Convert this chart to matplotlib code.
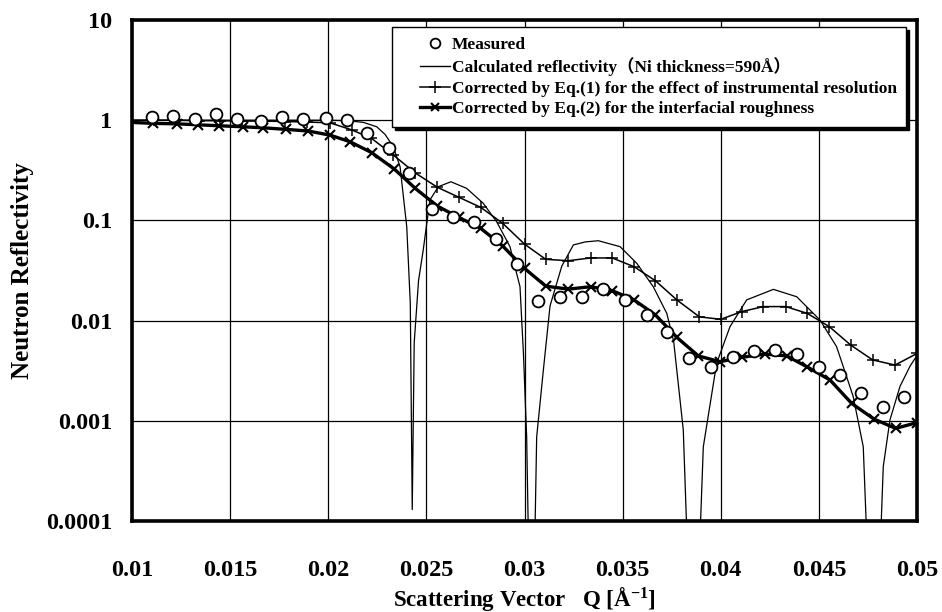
import matplotlib
matplotlib.use("Agg")
import matplotlib.pyplot as plt
from matplotlib.lines import Line2D
from matplotlib.legend_handler import HandlerLine2D

plt.rcParams['font.family'] = ['Liberation Serif', 'DejaVu Serif']
plt.rcParams['font.weight'] = 'bold'
plt.rcParams['axes.labelweight'] = 'bold'
plt.rcParams['mathtext.fontset'] = 'custom'
plt.rcParams['mathtext.rm'] = 'Liberation Serif:bold'
plt.rcParams['mathtext.default'] = 'rm'

# ---- Measured data ----
q_meas = [0.0110, 0.01207, 0.01323, 0.0143, 0.01537, 0.01656, 0.01763, 0.0187,
          0.01989, 0.02094, 0.0220, 0.02312, 0.02414, 0.02530, 0.02634, 0.02741,
          0.02853, 0.0296, 0.03067, 0.03182, 0.03291, 0.0340, 0.03512, 0.03623,
          0.03728, 0.0384, 0.0395, 0.0406, 0.0417, 0.04278, 0.04387, 0.04501,
          0.04606, 0.04715, 0.04825, 0.04934]
r_meas = [1.08, 1.11, 1.03, 1.15, 1.03, 0.98, 1.08, 1.03, 1.06, 1.0, 0.74, 0.525,
          0.295, 0.129, 0.107, 0.0964, 0.0647, 0.0367, 0.0156, 0.0171, 0.0173,
          0.0208, 0.0161, 0.0114, 0.00764, 0.00427, 0.00344, 0.00431, 0.00501,
          0.00506, 0.00468, 0.00342, 0.00284, 0.00189, 0.00136, 0.00173]

# ---- Calculated reflectivity (Ni thickness = 590 A) ----
q_calc = [0.0100, 0.0150, 0.0200, 0.0210, 0.0218, 0.02247, 0.0229, 0.02331, 0.02366,
          0.0240, 0.02418, 0.02428, 0.02438, 0.0246, 0.02484, 0.02518, 0.02561,
          0.02625, 0.02705, 0.0279, 0.02858, 0.02926, 0.02943, 0.02977, 0.02995,
          0.03011, 0.03036, 0.03062, 0.03096, 0.0313, 0.0319, 0.03249, 0.0331,
          0.03376, 0.03487, 0.03572, 0.03656, 0.03725, 0.0376, 0.03809, 0.0386,
          0.03911, 0.03979, 0.04047, 0.04132, 0.04268, 0.04387, 0.04506, 0.0459,
          0.04675, 0.04726, 0.0478, 0.04828, 0.04862, 0.04913, 0.04964, 0.0500]
r_calc = [1.0, 1.0, 1.0, 0.99, 0.95, 0.86, 0.72, 0.545, 0.343,
          0.0865, 0.015, 0.00013, 0.006, 0.025, 0.0507, 0.16, 0.217,
          0.243, 0.209, 0.148, 0.097, 0.0547, 0.040, 0.0218, 0.0045,
          0.00069, 1e-6, 0.00069, 0.0032, 0.014, 0.035, 0.0569, 0.061,
          0.0627, 0.0547, 0.0373, 0.0218, 0.0118, 0.0062, 0.00081, 1e-6,
          0.00055, 0.00375, 0.0087, 0.0161, 0.0205, 0.0173, 0.0101, 0.0055,
          0.00174, 0.00055, 1e-6, 0.00035, 0.00102, 0.0022, 0.0035, 0.0045]

# ---- Corrected by Eq.(1): instrumental resolution ----
q_eq1 = [0.0100, 0.0111, 0.0123, 0.0134, 0.0145, 0.0156, 0.0167, 0.0178, 0.0189,
         0.0201, 0.0212, 0.0222, 0.02331, 0.02442, 0.02556, 0.02666, 0.02777,
         0.02889, 0.0300, 0.03108, 0.03223, 0.03337, 0.03447, 0.03558, 0.03667,
         0.03776, 0.03891, 0.0400, 0.04107, 0.04217, 0.04331, 0.04441, 0.04553,
         0.04662, 0.04774, 0.04888, 0.0500]
r_eq1 = [1.0, 1.0, 1.0, 0.99, 0.99, 0.98, 0.98, 0.97, 0.96,
         0.94, 0.80, 0.66, 0.45, 0.299, 0.214, 0.17, 0.135,
         0.0935, 0.058, 0.0409, 0.0396, 0.0422, 0.0422, 0.0345, 0.025,
         0.0161, 0.0109, 0.0103, 0.0123, 0.0138, 0.0138, 0.0118, 0.0087,
         0.0057, 0.00405, 0.0036, 0.0047]

# ---- Corrected by Eq.(2): interfacial roughness ----
q_eq2 = [0.0100, 0.01109, 0.01228, 0.01338, 0.01445, 0.01564, 0.01669, 0.01785,
         0.01898, 0.02009, 0.02111, 0.02221, 0.02337, 0.02442, 0.02556, 0.02666,
         0.02777, 0.02889, 0.0300, 0.03108, 0.03223, 0.03337, 0.03447, 0.03558,
         0.03667, 0.03776, 0.03886, 0.03996, 0.04107, 0.04226, 0.04336, 0.04438,
         0.04557, 0.04667, 0.04781, 0.04891, 0.0500]
r_eq2 = [0.95, 0.93, 0.92, 0.90, 0.88, 0.86, 0.84, 0.81,
         0.78, 0.71, 0.61, 0.475, 0.325, 0.21, 0.139, 0.107,
         0.0833, 0.0555, 0.0332, 0.0221, 0.0206, 0.0218, 0.0199, 0.0161,
         0.0114, 0.0068, 0.00444, 0.00389, 0.0043, 0.00464, 0.00444, 0.00347,
         0.00255, 0.00149, 0.00104, 0.00084, 0.00096]

x_ticks = [0.01, 0.015, 0.02, 0.025, 0.03, 0.035, 0.04, 0.045, 0.05]
x_ticklabels = ['0.01', '0.015', '0.02', '0.025', '0.03', '0.035', '0.04', '0.045', '0.05']
y_ticks = [1e-4, 1e-3, 1e-2, 1e-1, 1, 10]
y_ticklabels = ['0.0001', '0.001', '0.01', '0.1', '1', '10']

labels = ['Measured',
          'Calculated reflectivity（Ni thickness=590Å）',
          'Corrected by Eq.(1) for the effect of instrumental resolution',
          'Corrected by Eq.(2) for the interfacial roughness']


class RightHandler(HandlerLine2D):
    """Draw the legend key in the right part of the handle box."""
    def create_artists(self, legend, orig_handle, xdescent, ydescent,
                       width, height, fontsize, trans):
        shift = 0.38 * width
        return super().create_artists(legend, orig_handle, xdescent - shift,
                                      ydescent, width - shift, height,
                                      fontsize, trans)


fig = plt.figure(figsize=(9.42, 6.12), dpi=100)
ax = fig.add_axes([0.1401, 0.1487, 0.8334, 0.8186])

ax.plot(q_calc, r_calc, color='black', lw=0.9, zorder=3)
ax.plot(q_eq1, r_eq1, color='black', lw=1.1, marker='+', ms=8, mew=1.1,
        markevery=slice(1, None), zorder=4)
ax.plot(q_eq2, r_eq2, color='black', lw=2.4, marker='x', ms=6.5, mew=1.5,
        markevery=slice(1, None), zorder=5)
ax.plot(q_meas, r_meas, linestyle='none', marker='o', ms=8.5, mfc='white',
        mec='black', mew=1.3, zorder=6)

ax.set_yscale('log')
ax.set_xlim(0.01, 0.05)
ax.set_ylim(1e-4, 10)
ax.set_xticks(x_ticks)
ax.set_xticklabels(x_ticklabels)
ax.set_yticks(y_ticks)
ax.set_yticklabels(y_ticklabels)
ax.minorticks_off()
ax.tick_params(axis='both', length=0, labelsize=17.5)
ax.tick_params(axis='x', pad=28)
ax.tick_params(axis='y', pad=14)
ax.grid(True, which='major', color='black', lw=0.9)
for s in ax.spines.values():
    s.set_linewidth(2.6)
    s.set_zorder(7)

ax.set_xlabel('Scattering Vector   Q [Å$^{-1}$]', fontsize=16.5, labelpad=3)
ax.set_ylabel('Neutron Reflectivity', fontsize=18, labelpad=9)

handles = [Line2D([], [], ls='none', marker='o', ms=7, mfc='white', mec='black', mew=1.3),
           Line2D([], [], color='black', lw=1.0),
           Line2D([], [], color='black', lw=1.1, marker='+', ms=8, mew=1.1),
           Line2D([], [], color='black', lw=2.4, marker='x', ms=6, mew=1.5)]
leg = ax.legend(handles, labels, loc='upper right', bbox_to_anchor=(0.991, 0.993),
                prop={'family': ['Liberation Serif', 'Noto Sans CJK JP'], 'weight': 'bold', 'size': 12.5},
                frameon=True, fancybox=False, shadow={'color': 'black', 'alpha': 1},
                handlelength=2.8, handletextpad=0.1, borderpad=0.55, labelspacing=0.26,
                borderaxespad=0.2, handler_map={Line2D: RightHandler()})
leg.get_frame().set_edgecolor('black')
leg.get_frame().set_linewidth(1.0)
leg.set_zorder(10)

fig.savefig('out.png', dpi=100)
